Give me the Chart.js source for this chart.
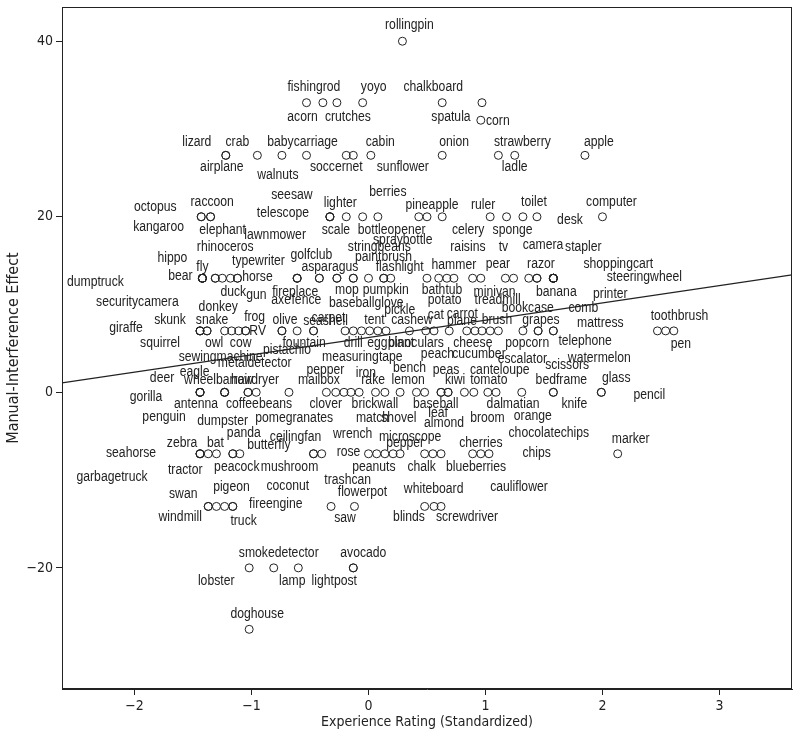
<!DOCTYPE html>
<html>
<head>
<meta charset="utf-8">
<script src="https://cdn.jsdelivr.net/npm/chart.js@4.4.0/dist/chart.umd.min.js"></script>
<style>
  html, body { margin: 0; padding: 0; background: #fff; }
  #wrap { width: 800px; height: 742px; }
</style>
</head>
<body>
<div id="wrap"><canvas id="myChart" width="800" height="742"></canvas></div>
<script>
// manual-interference effect comes in discrete steps, one row of objects per step
const effectLevels = [40, 33, 31, 27, 20, 13, 7, 0, -7, -13, -20, -27];

const namesByLevel = [
  ["rollingpin"],
  ["acorn", "fishingrod", "crutches", "yoyo", "chalkboard", "spatula"],
  ["corn"],
  ["lizard", "airplane", "crab", "walnuts", "babycarriage", "soccernet", "cabin", "sunflower",
   "onion", "strawberry", "ladle", "apple"],
  ["octopus", "raccoon", "kangaroo", "elephant", "seesaw", "telescope", "scale", "lighter",
   "bottleopener", "berries", "spraybottle", "pineapple", "celery", "ruler", "sponge", "toilet",
   "desk", "computer"],
  ["dumptruck", "hippo", "bear", "fly", "securitycamera", "rhinoceros", "donkey", "duck",
   "typewriter", "horse", "gun", "lawnmower", "fireplace", "axe", "golfclub", "fence",
   "asparagus", "mop", "baseballglove", "stringbeans", "paintbrush", "pumpkin", "flashlight", "pickle",
   "bathtub", "potato", "hammer", "raisins", "treadmill", "pear", "tv", "minivan",
   "bookcase", "razor", "camera", "banana", "stapler", "shoppingcart", "steeringwheel", "printer",
   "comb"],
  ["giraffe", "skunk", "squirrel", "snake", "owl", "sewingmachine", "cow", "frog",
   "RV", "metaldetector", "olive", "pistachio", "fountain", "carpet", "seashell", "drill",
   "measuringtape", "tent", "eggplant", "cashew", "binoculars", "peach", "cat", "plane",
   "carrot", "cheese", "cucumber", "brush", "popcorn", "escalator", "grapes", "telephone",
   "scissors", "mattress", "watermelon", "toothbrush", null, "pen"],
  ["deer", "gorilla", "antenna", "penguin", "eagle", "wheelbarrow", "dumpster", "hairdryer",
   "coffeebeans", "pomegranates", "mailbox", "pepper", "clover", "iron", "brickwall", "rake",
   "match", "shovel", "lemon", "bench", "baseball", "peas", "leaf", "kiwi",
   "almond", "broom", "tomato", "canteloupe", "dalmatian", "orange", "bedframe", "knife",
   "glass", "pencil"],
  ["seahorse", "zebra", "garbagetruck", "tractor", "bat", "panda", "peacock", "butterfly",
   "ceilingfan", "mushroom", "trashcan", "rose", "wrench", "peanuts", "microscope", "pepper",
   "chalk", "cherries", "blueberries", "chips", "chocolatechips", "cauliflower", "marker"],
  ["swan", "windmill", "pigeon", "truck", "fireengine", "coconut", "saw", "flowerpot",
   "whiteboard", "blinds", "screwdriver"],
  ["lobster", "smokedetector", "lamp", "lightpost", "avocado"],
  ["doghouse"]
];

// standardized experience rating, same order as the names
const ratingsByLevel = [
  [0.29],
  [-0.53, -0.39, -0.27, -0.05, 0.63, 0.97],
  [0.96],
  [-1.22, -1.22, -0.95, -0.74, -0.53, -0.19, -0.13, 0.02,
   0.63, 1.11, 1.25, 1.85],
  [-1.43, -1.43, -1.35, -1.35, -0.33, -0.33, -0.33, -0.19,
   -0.05, 0.08, 0.43, 0.5, 0.63, 1.04, 1.18, 1.32,
   1.44, 2.0],
  [-1.42, -1.42, -1.42, -1.42, -1.42, -1.31, -1.31, -1.25,
   -1.18, -1.12, -1.12, -0.61, -0.61, -0.61, -0.42, -0.42,
   -0.27, -0.27, -0.13, -0.13, 0, 0.13, 0.13, 0.19,
   0.5, 0.6, 0.67, 0.73, 0.89, 0.96, 1.17, 1.24,
   1.37, 1.44, 1.44, 1.58, 1.58, 1.58, 1.58, 1.58,
   1.58],
  [-1.44, -1.44, -1.44, -1.38, -1.38, -1.23, -1.17, -1.11,
   -1.05, -1.05, -0.74, -0.74, -0.61, -0.47, -0.47, -0.2,
   -0.13, -0.06, 0.01, 0.08, 0.15, 0.35, 0.49, 0.56,
   0.69, 0.84, 0.91, 0.97, 1.04, 1.11, 1.32, 1.45,
   1.45, 1.58, 1.58, 2.47, 2.54, 2.61],
  [-1.44, -1.44, -1.44, -1.44, -1.23, -1.23, -1.23, -1.03,
   -1.03, -0.96, -0.68, -0.36, -0.28, -0.21, -0.15, -0.08,
   0.06, 0.14, 0.27, 0.41, 0.48, 0.62, 0.62, 0.68,
   0.68, 0.82, 0.9, 1.02, 1.09, 1.31, 1.58, 1.58,
   1.99, 1.99],
  [-1.44, -1.44, -1.44, -1.37, -1.3, -1.16, -1.16, -1.1,
   -0.47, -0.47, -0.4, 0, 0.07, 0.14, 0.21, 0.27,
   0.48, 0.55, 0.62, 0.89, 0.96, 1.03, 2.13],
  [-1.37, -1.37, -1.3, -1.23, -1.16, -1.16, -0.32, -0.12,
   0.48, 0.56, 0.62],
  [-1.02, -0.81, -0.6, -0.13, -0.13],
  [-1.02]
];

// where each name sits relative to its circle, in pixels (layout only)
const nudgesByLevel = [
  [[7, -16]],
  [[-4, 14], [-9, -16], [11, 14], [11, -16], [-9, -16], [-31, 14]],
  [[17, 1]],
  [[-29, -13], [-4, 12], [-20, -13], [-4, 20], [-4, -13], [-10, 12], [27, -13], [32, 12],
   [12, -13], [24, -13], [0, 12], [14, -13]],
  [[-46, -10], [11, -15], [-52, 10], [12, 13], [-38, -22], [-47, -4], [6, 13], [-6, -14],
   [29, 13], [10, -25], [-16, 23], [5, -12], [26, 13], [-7, -12], [6, 13], [11, -15],
   [33, 3], [9, -15]],
  [[-107, 4], [-30, -20], [-22, -2], [0, -11], [-65, 24], [10, -31], [3, 29], [11, 14],
   [28, -17], [20, -1], [19, 17], [-22, -43], [-2, 14], [-16, 22], [-8, -23], [-13, 22],
   [-7, -11], [10, 12], [13, 25], [26, -31], [15, -21], [2, 12], [16, -11], [9, 32],
   [15, 12], [6, 22], [7, -13], [14, -31], [25, 22], [17, -14], [-2, -31], [-19, 14],
   [-1, 30], [4, -14], [6, -33], [3, 14], [30, -31], [65, -14], [91, -1], [57, 16],
   [30, 30]],
  [[-74, -3], [-30, -11], [-40, 12], [5, -11], [7, 12], [-4, 26], [9, 12], [16, -14],
   [12, 0], [9, 32], [3, -11], [5, 19], [7, 12], [15, -13], [12, -10], [8, 12],
   [9, 26], [13, -11], [21, 12], [34, -11], [30, 12], [28, 23], [10, -16], [28, -10],
   [13, -17], [6, 12], [4, 23], [15, -11], [37, 12], [24, 28], [18, -11], [47, 10],
   [29, 34], [47, -8], [46, 27], [22, -15], [0, 0], [7, 13]],
  [[-38, -14], [-54, 5], [-4, 12], [-36, 25], [-30, -20], [-6, -12], [-2, 29], [7, -12],
   [11, 12], [38, 26], [30, -12], [-1, -22], [-10, 12], [22, -19], [24, 12], [14, -12],
   [-3, 26], [14, 26], [8, -12], [-7, -24], [11, 12], [5, -22], [-3, 21], [7, -12],
   [-4, 31], [23, 26], [15, -12], [12, -22], [17, 12], [11, 24], [8, -12], [21, 12],
   [15, -14], [48, 3]],
  [[-69, -1], [-18, -11], [-88, 23], [-23, 16], [-1, -11], [11, -21], [4, 13], [29, -9],
   [-18, -17], [-24, 13], [26, 26], [-20, -2], [-24, -20], [-11, 13], [17, -17], [5, -11],
   [-3, 13], [48, -11], [35, 13], [64, -1], [68, -21], [30, 33], [13, -15]],
  [[-25, -12], [-28, 11], [15, -19], [19, 15], [43, -2], [55, -20], [14, 12], [8, -14],
   [9, -17], [-25, 11], [26, 11]],
  [[-33, 13], [5, -15], [-6, 13], [-19, 13], [10, -15]],
  [[8, -15]]
];

// fitted regression line, read at the two plot edges
const fitRating = [-2.62, 3.62];
const fitEffect = [1.08, 13.39];

const xTicks = [-2, -1, 0, 1, 2, 3];
const yTicks = [-20, 0, 20, 40];

const objectNames = [];
const points = [];
const nudges = [];
effectLevels.forEach((level, r) => {
  namesByLevel[r].forEach((name, k) => {
    objectNames.push(name);
    points.push({ x: ratingsByLevel[r][k], y: level });
    nudges.push(nudgesByLevel[r][k]);
  });
});

const ink = "#222";
const labelFont = '14px "Liberation Sans", Arial, sans-serif';
const labelSqueeze = 0.87; // the original names are set in a condensed face
const axisFamily = '"DejaVu Sans Condensed", "Liberation Sans", sans-serif';

function minusSign(value) {
  return value < 0 ? "\u2212" + Math.abs(value) : String(value);
}

const frame = {
  id: "frame",
  afterDraw(chart) {
    const { ctx, chartArea: a } = chart;
    ctx.save();
    ctx.strokeStyle = ink;
    ctx.lineWidth = 1;
    ctx.strokeRect(Math.round(a.left) + 0.5, Math.round(a.top) + 0.5,
      Math.round(a.right - a.left) - 1, Math.round(a.bottom - a.top) - 1);
    ctx.restore();
  }
};

const pointNames = {
  id: "pointNames",
  afterDatasetsDraw(chart) {
    const meta = chart.getDatasetMeta(0);
    const ctx = chart.ctx;
    ctx.save();
    ctx.font = labelFont;
    ctx.fillStyle = ink;
    ctx.textAlign = "center";
    ctx.textBaseline = "middle";
    ctx.scale(labelSqueeze, 1);
    meta.data.forEach((pt, i) => {
      if (!objectNames[i]) return;
      const [dx, dy] = nudges[i];
      ctx.fillText(objectNames[i], (pt.x + dx) / labelSqueeze, pt.y + dy);
    });
    ctx.restore();
  }
};

new Chart("myChart", {
  type: "scatter",
  data: {
    datasets: [
      {
        label: "objects",
        data: points,
        pointRadius: 4,
        pointHoverRadius: 4,
        pointBorderWidth: 1,
        borderColor: ink,
        backgroundColor: "rgba(255,255,255,0)",
      },
      {
        type: "line",
        label: "fit",
        data: fitRating.map((x, i) => ({ x: x, y: fitEffect[i] })),
        borderColor: ink,
        borderWidth: 1.2,
        pointRadius: 0,
        fill: false,
      },
    ],
  },
  options: {
    responsive: false,
    animation: false,
    devicePixelRatio: 1,
    layout: { padding: { top: 7, right: 8, left: 0, bottom: 0 } },
    plugins: {
      legend: { display: false },
      tooltip: { enabled: false },
    },
    scales: {
      x: {
        type: "linear",
        min: -2.62,
        max: 3.62,
        afterBuildTicks: (scale) => { scale.ticks = xTicks.map((v) => ({ value: v })); },
        afterFit: (scale) => { scale.height = 53; scale.paddingLeft = 0; scale.paddingRight = 0; },
        ticks: { callback: minusSign, color: ink, font: { family: axisFamily, size: 14 }, padding: 3, maxRotation: 0 },
        grid: { display: true, drawOnChartArea: false, drawTicks: true, tickLength: 6, color: ink },
        border: { display: true, color: ink },
        title: {
          display: true,
          text: "Experience Rating (Standardized)",
          color: ink,
          font: { family: axisFamily, size: 14 },
          padding: { top: 2, bottom: 11 },
        },
      },
      y: {
        type: "linear",
        min: -33.8,
        max: 43.9,
        afterBuildTicks: (scale) => { scale.ticks = yTicks.map((v) => ({ value: v })); },
        afterFit: (scale) => { scale.width = 62; scale.paddingTop = 0; scale.paddingBottom = 0; },
        ticks: { callback: minusSign, color: ink, font: { family: axisFamily, size: 14 }, padding: 3 },
        grid: { display: true, drawOnChartArea: false, drawTicks: true, tickLength: 6, color: ink },
        border: { display: true, color: ink },
        title: {
          display: true,
          text: "Manual-Interference Effect",
          color: ink,
          font: { family: axisFamily, size: 16 },
          padding: { top: 4, bottom: 2 },
        },
      },
    },
  },
  plugins: [frame, pointNames],
});
</script>
</body>
</html>
